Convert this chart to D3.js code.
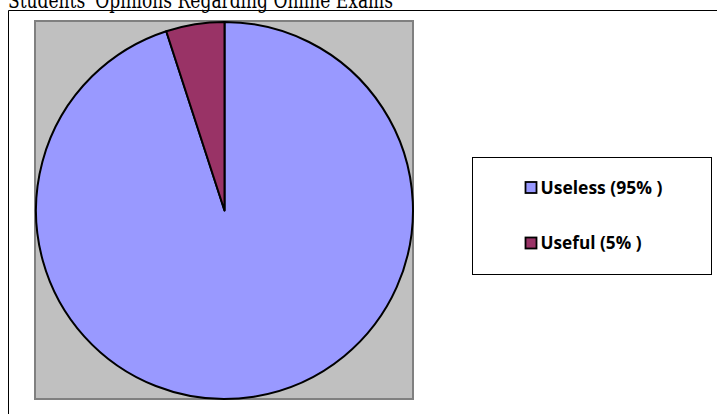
<!DOCTYPE html>
<html>
<head>
<meta charset="utf-8">
<script src="https://cdn.jsdelivr.net/npm/d3@7"></script>
<style>
  html, body { margin: 0; padding: 0; background: #fff; overflow: hidden; }
  svg { display: block; }
</style>
</head>
<body>
<svg id="chart" width="717" height="414"></svg>
<script>
// Survey answers: share of students per opinion
const categories = ["Useless", "Useful"];
const shares = [95, 5];
const legendLabels = ["Useless (95% )", "Useful (5% )"];
const sliceColors = ["#9999FF", "#993366"];
const titleText = "Students' Opinions Regarding Online Exams";

const svg = d3.select("#chart");

// Title (runs off the top edge)
svg.append("text")
  .attr("x", 8)
  .attr("y", 7.5)
  .attr("font-family", "'DejaVu Serif', 'Liberation Serif', serif")
  .attr("font-size", 23)
  .attr("textLength", 385)
  .attr("lengthAdjust", "spacingAndGlyphs")
  .attr("fill", "#000")
  .text(titleText);

// Outer chart frame: top and left edges visible
svg.append("path")
  .attr("d", "M8.5,414 L8.5,10.5 L717,10.5")
  .attr("fill", "none")
  .attr("stroke", "#000")
  .attr("stroke-width", 1);

// Plot area
const plot = { x: 35, y: 21, w: 378, h: 378 };
svg.append("rect")
  .attr("x", plot.x)
  .attr("y", plot.y)
  .attr("width", plot.w)
  .attr("height", plot.h)
  .attr("fill", "#C0C0C0")
  .attr("stroke", "#808080")
  .attr("stroke-width", 2);

// Pie
const cx = 224.5, cy = 210.5, radius = 188.5;
const color = d3.scaleOrdinal().domain(categories).range(sliceColors);
const pie = d3.pie().sort(null).value(d => d.value);
const arc = d3.arc().innerRadius(0).outerRadius(radius);
const data = categories.map((c, i) => ({ name: c, value: shares[i] }));

svg.append("g")
  .attr("transform", `translate(${cx},${cy})`)
  .selectAll("path")
  .data(pie(data))
  .join("path")
  .attr("d", arc)
  .attr("fill", d => color(d.data.name))
  .attr("stroke", "#000")
  .attr("stroke-width", 2)
  .attr("stroke-linejoin", "round");

// Legend
const lg = { x: 472.5, y: 157.5, w: 239, h: 117 };
svg.append("rect")
  .attr("x", lg.x)
  .attr("y", lg.y)
  .attr("width", lg.w)
  .attr("height", lg.h)
  .attr("fill", "#fff")
  .attr("stroke", "#000")
  .attr("stroke-width", 1);

const legendY = d3.scalePoint().domain(categories).range([187.5, 243]);
const labelWidths = [122, 101];
const items = svg.append("g").selectAll("g")
  .data(categories)
  .join("g")
  .attr("transform", d => `translate(525.5,${legendY(d)})`);

items.append("rect")
  .attr("x", 0)
  .attr("y", -5.5)
  .attr("width", 11)
  .attr("height", 11)
  .attr("fill", d => color(d))
  .attr("stroke", "#000")
  .attr("stroke-width", 1.8);

items.append("text")
  .attr("x", 15)
  .attr("y", 6)
  .attr("font-family", "'Open Sans', 'Liberation Sans', sans-serif")
  .attr("font-weight", "bold")
  .attr("font-size", 17)
  .attr("textLength", (d, i) => labelWidths[i])
  .attr("lengthAdjust", "spacingAndGlyphs")
  .attr("fill", "#000")
  .text((d, i) => legendLabels[i]);
</script>
</body>
</html>
